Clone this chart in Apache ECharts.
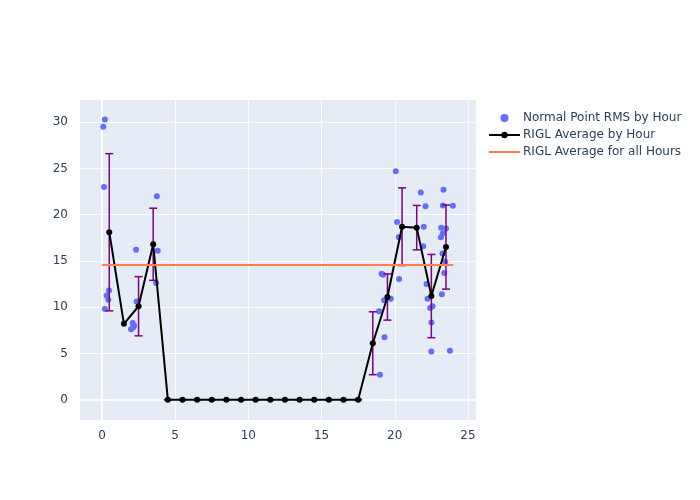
<!DOCTYPE html>
<html>
<head>
<meta charset="utf-8">
<script src="https://cdn.jsdelivr.net/npm/echarts@6/dist/echarts.min.js"></script>
<style>html,body{margin:0;padding:0;background:#fff}#c{width:700px;height:500px}</style>
</head>
<body>
<div id="c"></div>
<script>
// Normal point RMS samples (hour of day, value)
const pointX = [0.2,0.09,0.14,0.48,0.32,0.43,0.2,
  1.99,2.1,2.2,2.12,2.33,2.37,
  3.75,3.81,3.7,
  18.93,18.99,
  19.1,19.2,19.27,19.3,19.73,
  20.07,20.16,20.27,20.3,
  21.78,21.94,21.98,
  22.1,22.17,22.24,22.58,22.42,22.5,22.5,
  23.33,23.29,23.97,23.17,23.5,23.29,23.15,23.26,23.45,23.38,23.22,23.77];
const pointY = [30.3,29.5,23.0,11.8,11.25,10.8,9.8,
  7.6,8.3,8.0,7.8,16.2,10.6,
  22.0,16.1,12.6,
  9.55,2.7,
  13.6,13.5,10.75,6.75,10.9,
  24.7,19.2,17.55,13.05,
  22.4,16.6,18.7,
  20.9,12.5,10.9,10.1,9.9,8.35,5.2,
  22.7,21.0,20.96,18.6,18.5,18.0,17.55,15.8,14.9,13.7,11.4,5.3];
// Hourly averages
const hourX = [0.5,1.5,2.5,3.5,4.5,5.5,6.5,7.5,8.5,9.5,10.5,11.5,12.5,13.5,14.5,15.5,16.5,17.5,18.5,19.5,20.5,21.5,22.5,23.5];
const avgY  = [18.1,8.2,10.1,16.8,0,0,0,0,0,0,0,0,0,0,0,0,0,0,6.1,11.1,18.7,18.6,11.2,16.5];
const errY  = [8.5,null,3.2,3.9,0,0,0,0,0,0,0,0,0,0,0,0,0,0,3.4,2.5,4.2,2.4,4.5,4.55];
// Overall average
const allX = [0, 24];
const allAvg = 14.56;
const xTicks = [0,5,10,15,20,25];
const yTicks = [0,5,10,15,20,25,30];

const font = 'DejaVu Sans, sans-serif';
const chart = echarts.init(document.getElementById('c'));
chart.setOption({
  animation: false,
  backgroundColor: '#fff',
  grid: {left: 80, right: 224, top: 100, bottom: 80, show: true, backgroundColor: '#E5ECF6', borderWidth: 0},
  legend: {
    data: [
      'Normal Point RMS by Hour',
      'RIGL Average by Hour',
      {name: 'RIGL Average for all Hours', itemStyle: {opacity: 0}}
    ],
    orient: 'vertical', left: 483, top: 107, itemGap: 5, itemWidth: 31, itemHeight: 8,
    textStyle: {color: '#2a3f5f', fontSize: 12, fontFamily: font, padding: [0, 0, 0, -2]}
  },
  xAxis: {
    type: 'value', min: -1.5, max: 25.55,
    axisLine: {show: false}, axisTick: {show: false, customValues: xTicks},
    axisLabel: {customValues: xTicks, color: '#2a3f5f', fontSize: 12, fontFamily: font, margin: 10},
    splitLine: {show: true, lineStyle: {color: '#fff', width: 1}}
  },
  yAxis: {
    type: 'value', min: -2.2, max: 32.4,
    axisLine: {show: false}, axisTick: {show: false, customValues: yTicks},
    axisLabel: {customValues: yTicks, color: '#2a3f5f', fontSize: 12, fontFamily: font, margin: 12},
    splitLine: {show: true, lineStyle: {color: '#fff', width: 1}}
  },
  series: [
    {
      name: 'Normal Point RMS by Hour', type: 'scatter', z: 1,
      symbolSize: 6, itemStyle: {color: '#636efa', opacity: 1},
      data: pointX.map((x, i) => [x, pointY[i]]),
      markLine: {
        silent: true, symbol: 'none', label: {show: false}, z: 0,
        lineStyle: {color: '#fff', width: 2, type: 'solid'},
        data: [{xAxis: 0}, {yAxis: 0}]
      }
    },
    {
      name: 'errbars', type: 'custom', z: 2, silent: true,
      data: hourX.map((x, i) => [x, avgY[i], errY[i]]).filter(d => d[2] !== null),
      renderItem: function (params, api) {
        const x = api.value(0), y = api.value(1), e = api.value(2);
        const top = api.coord([x, y + e]);
        const bot = api.coord([x, y - e]);
        const w = 4;
        const st = {stroke: '#800080', lineWidth: 1.5};
        return {type: 'group', children: [
          {type: 'line', shape: {x1: top[0], y1: top[1], x2: bot[0], y2: bot[1]}, style: st},
          {type: 'line', shape: {x1: top[0] - w, y1: top[1], x2: top[0] + w, y2: top[1]}, style: st},
          {type: 'line', shape: {x1: bot[0] - w, y1: bot[1], x2: bot[0] + w, y2: bot[1]}, style: st}
        ]};
      }
    },
    {
      name: 'RIGL Average by Hour', type: 'line', z: 3,
      symbol: 'circle', symbolSize: 6, showSymbol: true,
      lineStyle: {color: '#000', width: 2}, itemStyle: {color: '#000'},
      data: hourX.map((x, i) => [x, avgY[i]])
    },
    {
      name: 'RIGL Average for all Hours', type: 'line', z: 4,
      symbol: 'none', lineStyle: {color: '#FF7F50', width: 2}, itemStyle: {color: '#FF7F50'},
      data: allX.map(x => [x, allAvg])
    }
  ]
});
</script>
</body>
</html>
